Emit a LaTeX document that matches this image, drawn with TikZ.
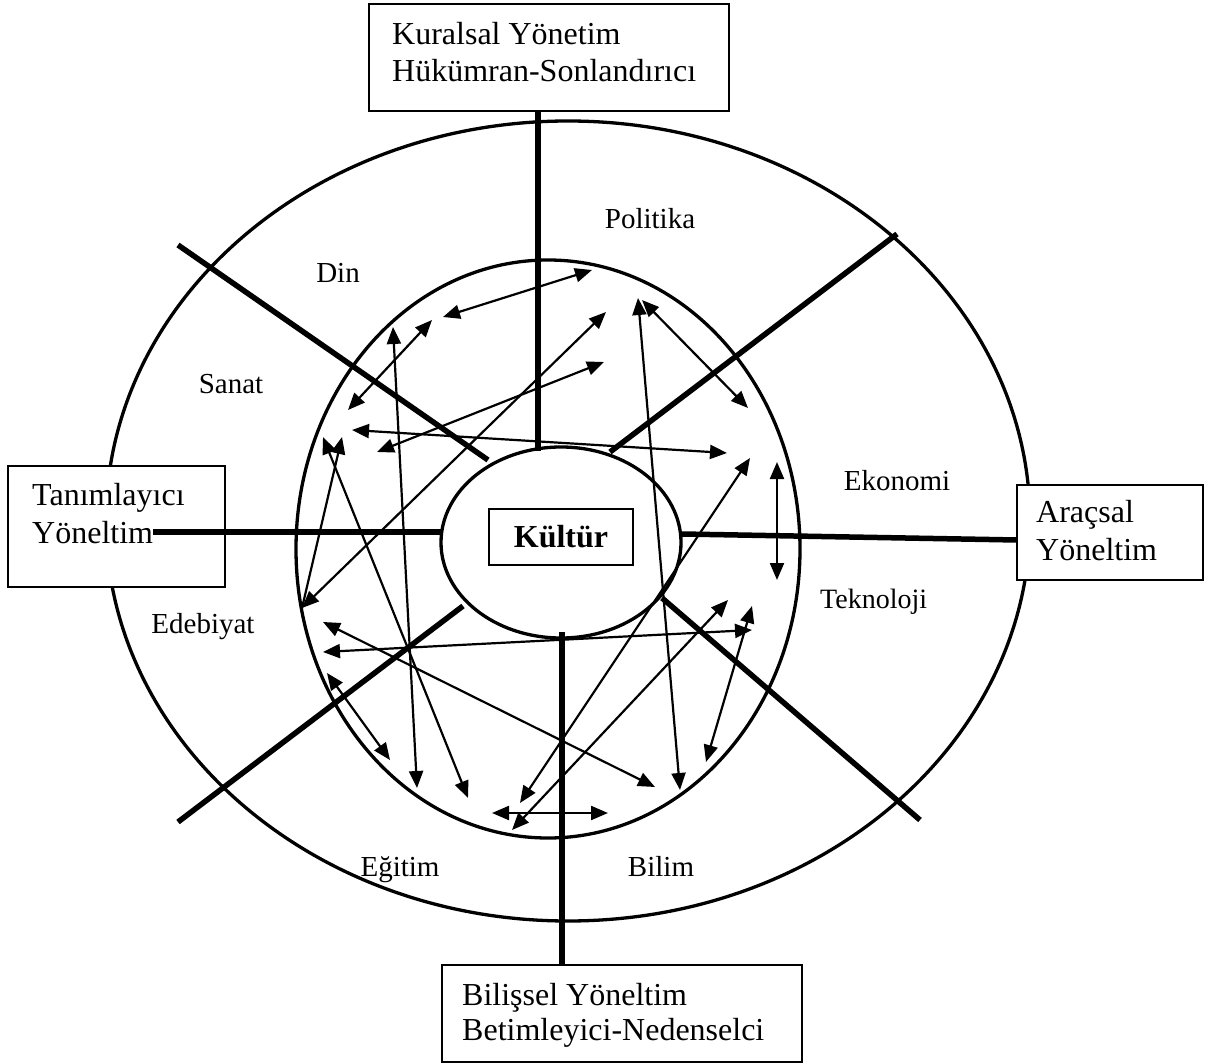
\documentclass[tikz,border=0pt]{standalone}
\usepackage{fontspec}
\setmainfont{Liberation Serif}
\usetikzlibrary{arrows.meta,shapes.geometric}
\begin{document}
\begin{tikzpicture}[x=1pt,y=-1pt,
  ring/.style={draw,ellipse,line width=3.3pt,inner sep=0pt},
  axis/.style={line width=5.5pt},
  arr/.style={line width=2.2pt,{Triangle[length=17pt,width=14pt]}-{Triangle[length=17pt,width=14pt]}},
  arrone/.style={line width=2.2pt,-{Triangle[length=17pt,width=14pt]}},
  box/.style={draw,line width=1.6pt,fill=white,inner sep=0pt},
  boxtext/.style={font=\fontsize{32}{37}\selectfont,inner sep=0pt,anchor=base west},
  lab/.style={font=\fontsize{29}{32}\selectfont,inner sep=0pt,anchor=base}]
\useasboundingbox[fill=white] (0,0) rectangle (1210,1064);

% rings
\node[ring,minimum width=924pt,minimum height=800pt] (outer) at (568,521) {};
\node[ring,minimum width=504pt,minimum height=578pt] (middle) at (548,549) {};

% boxes
\node[box,minimum width=360pt,minimum height=107pt] (topbox) at (549,57.5) {};
\node[box,minimum width=217pt,minimum height=121pt] (leftbox) at (116.5,526.5) {};
\node[box,minimum width=186pt,minimum height=95pt] (rightbox) at (1110,532.5) {};
\node[box,minimum width=360pt,minimum height=97pt] (botbox) at (622,1013.5) {};

\node[boxtext] (t1) at (392,45) {Kuralsal Yönetim};
\node[boxtext] (t2) at (392,82) {Hükümran-Sonlandırıcı};
\node[boxtext] (l1) at (32,505) {Tanımlayıcı};
\node[boxtext] (l2) at (32,543) {Yöneltim};
\node[boxtext] (r1) at (1036,522) {Araçsal};
\node[boxtext] (r2) at (1036,560) {Yöneltim};
\node[boxtext] (b1) at (462,1005) {Bilişsel Yöneltim};
\node[boxtext] (b2) at (462,1040) {Betimleyici-Nedenselci};

% core
\node[ring,minimum width=240pt,minimum height=191pt] (core) at (561,542.5) {};
\node[draw,line width=1.6pt,minimum width=144pt,minimum height=56pt,inner sep=0pt,
      font=\fontsize{32}{37}\selectfont\bfseries] (kultur) at (561,537) {Kültür};

% thick axes
\coordinate (ta) at (538,111); \coordinate (tb) at (538,451);
\coordinate (la) at (153,532); \coordinate (lb) at (441,532);
\coordinate (ra) at (682,534); \coordinate (rb) at (1017,540);
\coordinate (ba) at (562,632); \coordinate (bb) at (562,965);
\coordinate (nwa) at (178,245); \coordinate (nwb) at (488,460);
\coordinate (nea) at (610,452); \coordinate (neb) at (897,234);
\coordinate (swa) at (463,606); \coordinate (swb) at (178,822);
\coordinate (sea) at (662,598); \coordinate (seb) at (920,820);
\draw[axis] (ta) -- (tb);
\draw[axis] (la) -- (lb);
\draw[axis] (ra) -- (rb);
\draw[axis] (ba) -- (bb);
\draw[axis] (nwa) -- (nwb);
\draw[axis] (nea) -- (neb);
\draw[axis] (swa) -- (swb);
\draw[axis] (sea) -- (seb);

% thin arrows
\coordinate (a1a) at (443,317); \coordinate (a1b) at (592,270);
\coordinate (a2a) at (302,608); \coordinate (a2b) at (606,312);
\coordinate (a3a) at (352,430); \coordinate (a3b) at (727,453);
\coordinate (a4a) at (377,452); \coordinate (a4b) at (604,362);
\coordinate (a5a) at (323,437); \coordinate (a5b) at (468,798);
\coordinate (a6b) at (342,437);
\coordinate (a7a) at (393,327); \coordinate (a7b) at (417,788);
\coordinate (a8a) at (348,410); \coordinate (a8b) at (432,320);
\coordinate (a9a) at (638,298); \coordinate (a9b) at (680,790);
\coordinate (a10a) at (642,300); \coordinate (a10b) at (748,408);
\coordinate (a11a) at (520,803); \coordinate (a11b) at (750,458);
\coordinate (a12a) at (512,830); \coordinate (a12b) at (728,600);
\coordinate (a13a) at (492,813); \coordinate (a13b) at (608,813);
\coordinate (a14a) at (323,652); \coordinate (a14b) at (752,630);
\coordinate (a15a) at (323,622); \coordinate (a15b) at (655,787);
\coordinate (a16a) at (706,762); \coordinate (a16b) at (752,606);
\coordinate (a17a) at (327,673); \coordinate (a17b) at (390,760);
\coordinate (a18a) at (777,462); \coordinate (a18b) at (777,580);

\draw[arr] (a1a) -- (a1b);
\draw[arr] (a2a) -- (a2b);
\draw[arr] (a3a) -- (a3b);
\draw[arr] (a4a) -- (a4b);
\draw[arr] (a5a) -- (a5b);
\draw[arrone] (a2a) -- (a6b);
\draw[arr] (a7a) -- (a7b);
\draw[arr] (a8a) -- (a8b);
\draw[arr] (a9a) -- (a9b);
\draw[arr] (a10a) -- (a10b);
\draw[arr] (a11a) -- (a11b);
\draw[arr] (a12a) -- (a12b);
\draw[arr] (a13a) -- (a13b);
\draw[arr] (a14a) -- (a14b);
\draw[arr] (a15a) -- (a15b);
\draw[arr] (a16a) -- (a16b);
\draw[arr] (a17a) -- (a17b);
\draw[arr] (a18a) -- (a18b);

% sector labels
\node[lab] (politika) at (650,229) {Politika};
\node[lab] (din) at (338,283) {Din};
\node[lab] (sanat) at (231,394) {Sanat};
\node[lab] (ekonomi) at (897,490) {Ekonomi};
\node[lab,anchor=base west,font=\fontsize{28}{31}\selectfont] (teknoloji) at (820,608) {Teknoloji};
\node[lab] (edebiyat) at (203,633) {Edebiyat};
\node[lab] (egitim) at (400,876) {Eğitim};
\node[lab] (bilim) at (661,876) {Bilim};
\end{tikzpicture}
\end{document}
